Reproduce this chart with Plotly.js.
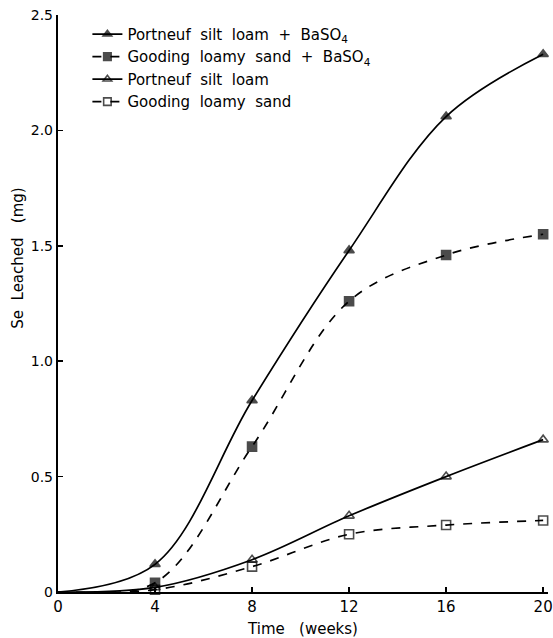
<!DOCTYPE html>
<html>
<head>
<meta charset="utf-8">
<script src="https://cdn.plot.ly/plotly-3.0.1.min.js"></script>
<style>html,body{margin:0;padding:0;background:#fff;}#chart{width:553px;height:638px;}</style>
</head>
<body>
<div id="chart"></div>
<script>
var weeks = [0, 4, 8, 12, 16, 20];
var portneufBa = [0, 0.12, 0.83, 1.48, 2.06, 2.33];
var goodingBa = [0, 0.04, 0.63, 1.26, 1.46, 1.55];
var portneuf = [0, 0.02, 0.14, 0.33, 0.50, 0.66];
var gooding = [0, 0.01, 0.11, 0.25, 0.29, 0.31];
var names = ["Portneuf  silt  loam  +  BaSO<sub>4</sub>", "Gooding  loamy  sand  +  BaSO<sub>4</sub>", "Portneuf  silt  loam", "Gooding  loamy  sand"];
var xTicks = [0, 4, 8, 12, 16, 20];
var yTicks = [0, 0.5, 1.0, 1.5, 2.0, 2.5];
var yTickText = ["0", "0.5", "1.0", "1.5", "2.0", "2.5"];
var yTitle = "Se  Leached   (mg)";
var xTitle = "Time   (weeks)";

var msize = [0, 9, 9, 9, 9, 9];
function tr(y, name, symbol, dash) {
  return {
    x: weeks, y: y, name: name, type: 'scatter', mode: 'lines+markers',
    line: {color: '#000', width: 1.7, dash: dash, shape: 'spline', smoothing: 1},
    marker: {symbol: symbol, size: msize, color: '#000', line: {color: '#000', width: 1.6}},
    cliponaxis: false
  };
}
var data = [
  tr(portneufBa, names[0], 'triangle-up', 'solid'),
  tr(goodingBa, names[1], 'square', 'dash'),
  tr(portneuf, names[2], 'triangle-up-open', 'solid'),
  tr(gooding, names[3], 'square-open', 'dash')
];
var FF = 'DejaVu Sans, sans-serif';
var layout = {
  width: 553, height: 638,
  margin: {l: 58, r: 5, t: 15, b: 46},
  paper_bgcolor: '#fff', plot_bgcolor: '#fff',
  showlegend: true,
  legend: {x: 0.06, y: 0.995, xanchor: 'left', yanchor: 'top', bgcolor: 'rgba(0,0,0,0)',
    font: {family: FF, size: 15, color: '#000'}, tracegroupgap: 0},
  xaxis: {
    range: [0, 20.2], tickvals: xTicks, ticktext: xTicks.map(String),
    ticks: 'inside', ticklen: 5, tickcolor: '#000', tickwidth: 1.5, showgrid: false, zeroline: false,
    showline: true, linecolor: '#000', linewidth: 2.2,
    tickfont: {family: FF, size: 15, color: '#000'},
    title: {text: xTitle, font: {family: FF, size: 15, color: '#000'}, standoff: 12}
  },
  yaxis: {
    range: [0, 2.5], tickvals: yTicks, ticktext: yTickText,
    ticks: 'inside', ticklen: 5, tickcolor: '#000', tickwidth: 1.5, showgrid: false, zeroline: false,
    showline: true, linecolor: '#000', linewidth: 2.2,
    tickfont: {family: FF, size: 14, color: '#000'}
  },
  annotations: [{
    text: yTitle, xref: 'paper', yref: 'paper', x: -0.082, y: 0.579,
    xanchor: 'center', yanchor: 'middle', textangle: -90, showarrow: false,
    font: {family: FF, size: 15, color: '#000'}
  }],
  font: {family: FF, color: '#000'}
};
Plotly.newPlot('chart', data, layout, {displayModeBar: false, staticPlot: true});
</script>
</body>
</html>
